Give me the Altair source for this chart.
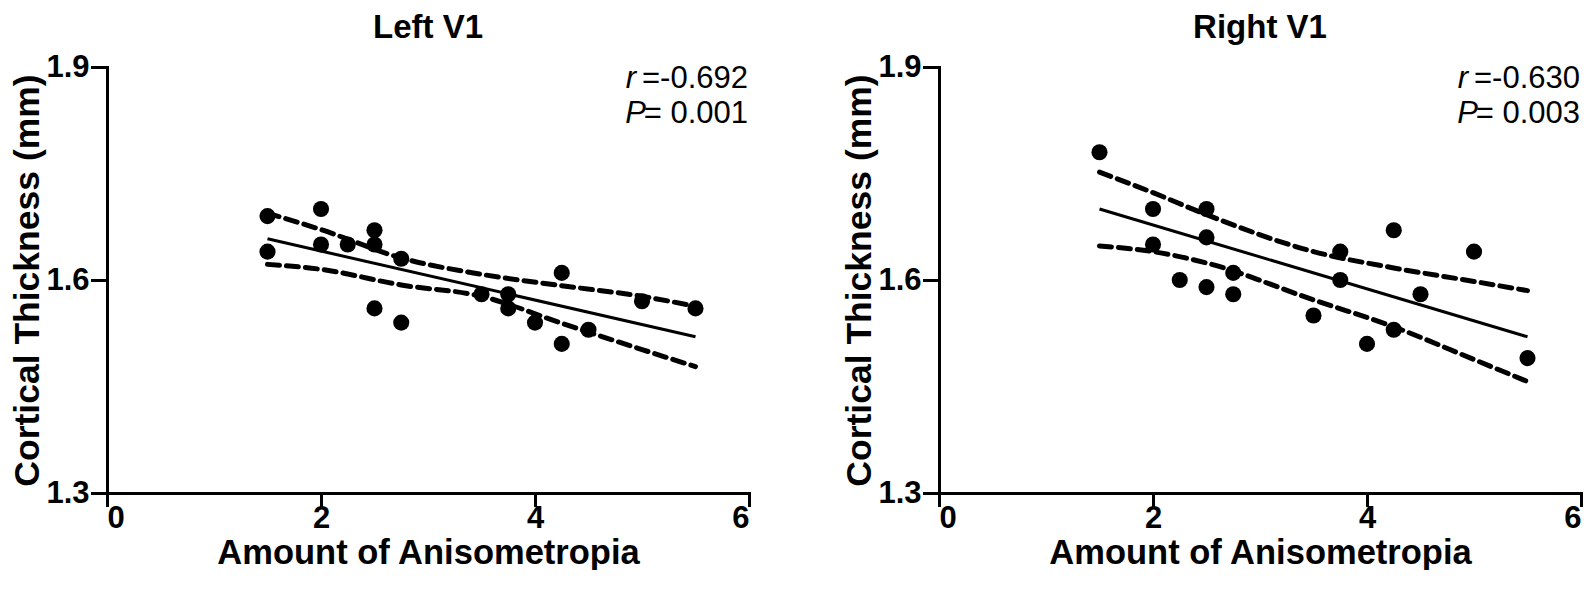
import altair as alt
import pandas as pd

FONT = "Liberation Sans, Arial, Helvetica, sans-serif"

# ---------------- data ----------------
left_x = [1.5, 1.5, 2, 2, 2.25, 2.5, 2.5, 2.5, 2.75, 2.75, 3.5, 3.75, 3.75, 4, 4.25, 4.25, 4.5, 5, 5.5]
left_y = [1.69, 1.64, 1.70, 1.65, 1.65, 1.67, 1.65, 1.56, 1.63, 1.54, 1.58, 1.58, 1.56, 1.54, 1.61, 1.51, 1.53, 1.57, 1.56]

right_x = [1.5, 2, 2, 2.25, 2.5, 2.5, 2.5, 2.75, 2.75, 3.5, 3.75, 3.75, 4, 4.25, 4.25, 4.5, 5, 5.5]
right_y = [1.78, 1.70, 1.65, 1.60, 1.70, 1.66, 1.59, 1.61, 1.58, 1.55, 1.64, 1.60, 1.51, 1.67, 1.53, 1.58, 1.64, 1.49]

# regression lines
left_fit_x = [1.5, 5.5]
left_fit_y = [1.658, 1.520]
right_fit_x = [1.5, 5.5]
right_fit_y = [1.700, 1.520]

# 95% confidence bands
left_up_x = [1.5, 2.0, 2.75, 3.5, 4.25, 5.0, 5.5]
left_up_y = [1.694, 1.671, 1.631, 1.608, 1.592, 1.577, 1.563]
left_lo_x = [1.5, 2.0, 2.75, 3.5, 4.25, 5.0, 5.5]
left_lo_y = [1.622, 1.615, 1.593, 1.577, 1.539, 1.502, 1.478]

right_up_x = [1.5, 2.0, 2.5, 3.5, 4.25, 5.0, 5.5]
right_up_y = [1.752, 1.723, 1.692, 1.640, 1.617, 1.598, 1.585]
right_lo_x = [1.5, 2.0, 2.5, 3.5, 4.25, 5.0, 5.5]
right_lo_y = [1.648, 1.640, 1.624, 1.572, 1.534, 1.488, 1.457]

titles = ["Left V1", "Right V1"]
r_texts = ["=-0.692", "=-0.630"]
p_texts = ["= 0.001", "= 0.003"]

x_ticks = [0, 2, 4, 6]
y_ticks = [1.3, 1.6, 1.9]
x_title = "Amount of Anisometropia"
y_title = "Cortical Thickness (mm)"

W = 642
H = 426


def panel(title, xs, ys, fx, fy, ux, uy, lx, ly, rtxt, ptxt):
    pts = pd.DataFrame({"x": xs, "y": ys})
    fit = pd.DataFrame({"x": fx, "y": fy})
    up = pd.DataFrame({"x": ux, "y": uy})
    lo = pd.DataFrame({"x": lx, "y": ly})

    xsc = alt.Scale(domain=[0, 6], nice=False)
    ysc = alt.Scale(domain=[1.3, 1.9], nice=False, zero=False)
    xax = alt.Axis(values=x_ticks, title=x_title, tickSize=12, labelPadding=-2,
                   titlePadding=3, titleFontSize=34.5, format="d", grid=False)
    yax = alt.Axis(values=y_ticks, title=y_title, tickSize=15, labelPadding=3,
                   titlePadding=0, titleFontSize=35.5, format=".1f", grid=False)

    points = alt.Chart(pts).mark_circle(size=260, color="black", opacity=1).encode(
        x=alt.X("x:Q", scale=xsc, axis=xax),
        y=alt.Y("y:Q", scale=ysc, axis=yax),
    )
    fitline = alt.Chart(fit).mark_line(color="black", strokeWidth=3).encode(
        x="x:Q", y="y:Q")
    upline = alt.Chart(up).mark_line(color="black", strokeWidth=5, strokeDash=[12, 7],
                                      strokeCap="round", interpolate="monotone").encode(
        x="x:Q", y="y:Q")
    loline = alt.Chart(lo).mark_line(color="black", strokeWidth=5, strokeDash=[12, 7],
                                      strokeCap="round", interpolate="monotone").encode(
        x="x:Q", y="y:Q")

    one = pd.DataFrame({"a": [0]})
    r_val = alt.Chart(one).mark_text(text=rtxt, font=FONT, fontSize=31, align="right",
                                     baseline="alphabetic", color="black").encode(
        x=alt.value(W - 1), y=alt.value(21))
    r_lab = alt.Chart(one).mark_text(text="r", font=FONT, fontSize=31, fontStyle="italic",
                                     align="right", baseline="alphabetic", color="black").encode(
        x=alt.value(W - 1 - 112), y=alt.value(21))
    p_val = alt.Chart(one).mark_text(text=ptxt, font=FONT, fontSize=31, align="right",
                                     baseline="alphabetic", color="black").encode(
        x=alt.value(W - 1), y=alt.value(56))
    p_lab = alt.Chart(one).mark_text(text="P", font=FONT, fontSize=31, fontStyle="italic",
                                     align="right", baseline="alphabetic", color="black").encode(
        x=alt.value(W - 1 - 102), y=alt.value(56))

    return alt.layer(upline, loline, fitline, points, r_val, r_lab, p_val, p_lab).properties(
        width=W, height=H,
        title=alt.TitleParams(title, font=FONT, fontSize=33, fontWeight="bold",
                              color="black", offset=6, anchor="middle"),
    )


left = panel(titles[0], left_x, left_y, left_fit_x, left_fit_y,
             left_up_x, left_up_y, left_lo_x, left_lo_y, r_texts[0], p_texts[0])
right = panel(titles[1], right_x, right_y, right_fit_x, right_fit_y,
              right_up_x, right_up_y, right_lo_x, right_lo_y, r_texts[1], p_texts[1])

chart = alt.hconcat(left, right, spacing=90).properties(
    padding={"left": 2, "top": 4, "right": 0, "bottom": 0},
    background="white",
).configure_view(stroke=None).configure_axis(
    domainColor="black", domainWidth=3, tickColor="black", tickWidth=3,
    labelFont=FONT, labelFontSize=31, labelFontWeight="bold", labelColor="black",
    titleFont=FONT, titleFontSize=34, titleFontWeight="bold", titleColor="black",
    grid=False, domainCap="square", tickCap="square",
)

chart.save("out.html", embed_options={"renderer": "svg", "actions": False})
